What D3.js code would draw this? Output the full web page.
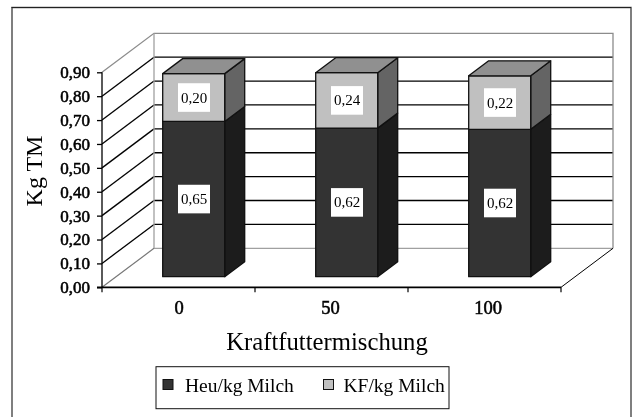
<!DOCTYPE html>
<html><head><meta charset="utf-8">
<script src="https://cdn.jsdelivr.net/npm/d3@7"></script>
<style>html,body{margin:0;padding:0;background:#fff}svg{display:block;filter:blur(0.3px)}text{font-family:"Liberation Serif",serif;fill:#000}</style>
</head><body><svg id="c" width="632" height="417"></svg>
<script>
const categories = ["0", "50", "100"];
const heuValues = [0.65, 0.622, 0.617];
const kfValues = [0.20, 0.232, 0.224];
const heuLabels = ["0,65", "0,62", "0,62"];
const kfLabels = ["0,20", "0,24", "0,22"];
const seriesNames = ["Heu/kg Milch", "KF/kg Milch"];
const yTicks = [0, 0.1, 0.2, 0.3, 0.4, 0.5, 0.6, 0.7, 0.8, 0.9];
const yTitle = "Kg TM";
const xTitle = "Kraftfuttermischung";

const svg = d3.select("#c");
const y = d3.scaleLinear().domain([0, 0.9]).range([287.3, 72.3]);
const x = d3.scaleBand().domain(categories).range([102, 561]).paddingInner(0).paddingOuter(0);
const depthX = 52, depthY = 39;          // chart floor depth
const barDepthX = 20, barDepthY = 15;    // bar depth
const barW = 62, barBase = 10.6, barOffset = 60.7;

const line = (x1, y1, x2, y2, c, w) => svg.append("line").attr("x1", x1).attr("y1", y1).attr("x2", x2).attr("y2", y2)
  .attr("stroke", c).attr("stroke-width", w);
const poly = (pts, fill, sw = 1.3) => svg.append("polygon").attr("points", pts.map(p => p.join(",")).join(" "))
  .attr("fill", fill).attr("stroke", "#111").attr("stroke-width", sw).attr("stroke-linejoin", "round");

// outer frame
svg.append("path").attr("d", "M12,417V7.5H631V417").attr("fill", "none").attr("stroke", "#555").attr("stroke-width", 1.5);
line(11.5, 7.5, 631, 7.5, "#222", 1);

// walls
const x0 = 102, x1 = 561;
const gray = "#8c8c8c";
yTicks.slice(1, -1).forEach(t => {
  line(x0, y(t), x0 + depthX, y(t) - depthY, "#000", 1.3);
  line(x0 + depthX, y(t) - depthY, x1 + depthX, y(t) - depthY, "#000", 1.3);
});
svg.append("path").attr("d", `M${x0},${y(0.9)}L${x0 + depthX},${y(0.9) - depthY}H${x1 + depthX}V${y(0) - depthY}`)
  .attr("fill", "none").attr("stroke", gray).attr("stroke-width", 1.3);
svg.append("path").attr("d", `M${x0 + depthX},${y(0.9) - depthY}V${y(0) - depthY}H${x1 + depthX}`)
  .attr("fill", "none").attr("stroke", "#a0a0a0").attr("stroke-width", 1.3);
line(x0, y(0), x0 + depthX, y(0) - depthY, "#777", 1.2);
line(x1, y(0), x1 + depthX, y(0) - depthY, "#000", 1);

// bars
categories.forEach((c, i) => {
  const bx = x(c) + barOffset;
  const base = y(0) - barBase;
  const h = y(0) - y(heuValues[i]);
  const k = y(0) - y(kfValues[i]);
  const t1 = base - h, t2 = t1 - k;
  poly([[bx + barW, base], [bx + barW + barDepthX, base - barDepthY], [bx + barW + barDepthX, t1 - barDepthY], [bx + barW, t1]], "#1c1c1c");
  poly([[bx, base], [bx + barW, base], [bx + barW, t1], [bx, t1]], "#333333");
  poly([[bx + barW, t1], [bx + barW + barDepthX, t1 - barDepthY], [bx + barW + barDepthX, t2 - barDepthY], [bx + barW, t2]], "#646464");
  poly([[bx, t1], [bx + barW, t1], [bx + barW, t2], [bx, t2]], "#c0c0c0");
  poly([[bx, t2], [bx + barW, t2], [bx + barW + barDepthX, t2 - barDepthY], [bx + barDepthX, t2 - barDepthY]], "#909090");
  const lab = (txt, cy) => {
    svg.append("rect").attr("x", bx + 15.3).attr("y", cy - 14.3).attr("width", 32).attr("height", 28.6).attr("fill", "#fff");
    svg.append("text").attr("x", bx + 31.3).attr("y", cy + 5).attr("text-anchor", "middle").attr("font-size", 15).attr("fill", "#222").text(txt);
  };
  lab(heuLabels[i], base - h / 2);
  lab(kfLabels[i], t1 - k / 2);
});

// axes
const yAxis = d3.axisLeft(y).tickValues(yTicks).tickSize(5).tickPadding(7).tickFormat(d => d3.format(".2f")(d).replace(".", ","));
const gy = svg.append("g").attr("transform", `translate(${x0},0)`).call(yAxis);
const xAxis = d3.axisBottom(x).tickSize(0).tickPadding(14);
const gx = svg.append("g").attr("transform", `translate(0,${y(0)})`).call(xAxis);
gy.selectAll("text").attr("font-size", 17);
gx.selectAll("text").attr("font-size", 18.5);
[gy, gx].forEach(g => {
  g.selectAll("text").attr("font-family", "Liberation Serif").attr("fill", "#000").attr("stroke", "#000").attr("stroke-width", 0.55);
  g.selectAll("path,line").attr("stroke", "#000").attr("stroke-width", 1.3);
});
gy.select("path").attr("d", `M0,${y(0.9)}V${y(0)}`);
gx.select("path").attr("d", `M${x0 - 5},0H${x1}`).attr("stroke-width", 1.8);
gx.selectAll(".tick text").attr("dy", "0.71em").attr("dx", (d, i) => [0.5, -1, 3.5][i]);
categories.forEach((c, i) => {
  const tx = x0 + (x1 - x0) / 3 * i;
  line(tx, y(0), tx, y(0) + 5, "#000", 1.2);
});
line(x1, y(0), x1, y(0) + 5, "#000", 1.2);

// titles
svg.append("text").attr("transform", "translate(41.5,171) rotate(-90)").attr("text-anchor", "middle").attr("font-size", 24).text(yTitle);
svg.append("text").attr("x", 327).attr("y", 350).attr("text-anchor", "middle").attr("font-size", 24.7).text(xTitle);

// legend
svg.append("rect").attr("x", 156).attr("y", 366.7).attr("width", 293).attr("height", 42).attr("fill", "#fff").attr("stroke", "#111").attr("stroke-width", 1);
const legendX = [163, 323.5], textX = [185, 343.5], legendC = ["#333333", "#c0c0c0"];
seriesNames.forEach((n, i) => {
  svg.append("rect").attr("x", legendX[i]).attr("y", 379.5).attr("width", 10).attr("height", 10).attr("fill", legendC[i]).attr("stroke", "#111").attr("stroke-width", 1);
  svg.append("text").attr("x", textX[i]).attr("y", 391.5).attr("font-size", 19.5).text(n);
});
</script></body></html>
